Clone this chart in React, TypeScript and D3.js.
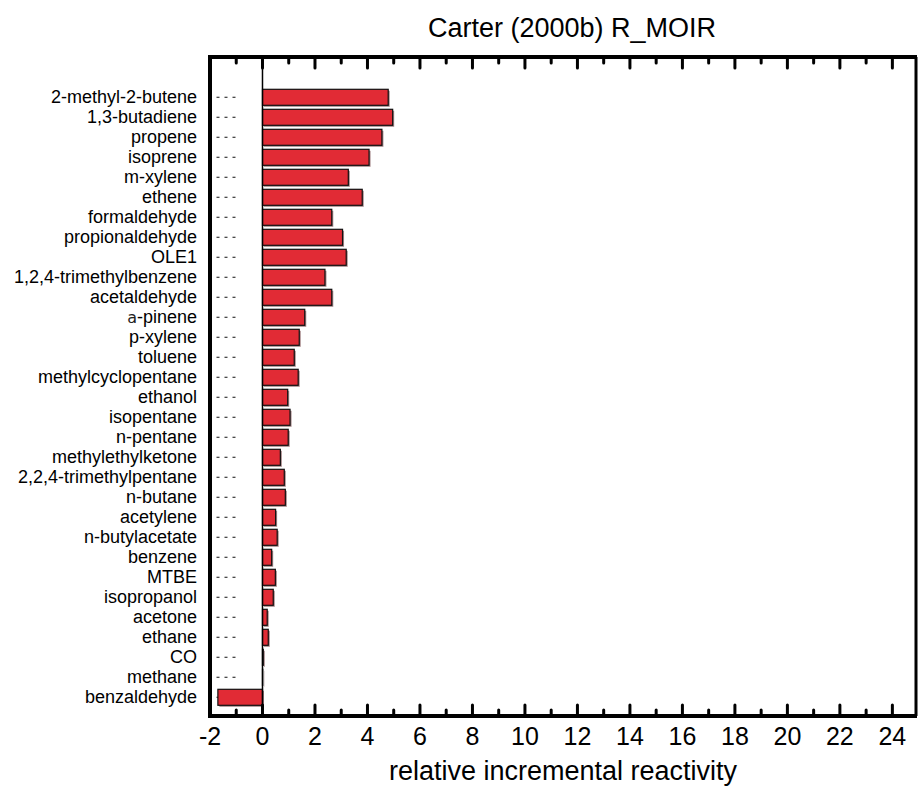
import { scaleLinear, scalePoint } from 'd3';

const categories = [
  '2-methyl-2-butene', '1,3-butadiene', 'propene', 'isoprene', 'm-xylene', 'ethene',
  'formaldehyde', 'propionaldehyde', 'OLE1', '1,2,4-trimethylbenzene', 'acetaldehyde',
  'a-pinene', 'p-xylene', 'toluene', 'methylcyclopentane', 'ethanol', 'isopentane',
  'n-pentane', 'methylethylketone', '2,2,4-trimethylpentane', 'n-butane', 'acetylene',
  'n-butylacetate', 'benzene', 'MTBE', 'isopropanol', 'acetone', 'ethane', 'CO',
  'methane', 'benzaldehyde',
];
const reactivity = [
  4.79, 4.96, 4.55, 4.06, 3.27, 3.80,
  2.64, 3.05, 3.19, 2.38, 2.64,
  1.61, 1.40, 1.21, 1.36, 0.96, 1.05,
  0.98, 0.68, 0.83, 0.87, 0.50,
  0.56, 0.35, 0.49, 0.41, 0.18, 0.22, 0.03,
  0.01, -1.70,
];
const majorTicks = [-2, 0, 2, 4, 6, 8, 10, 12, 14, 16, 18, 20, 22, 24];
const minorTicks = [-1, 1, 3, 5, 7, 9, 11, 13, 15, 17, 19, 21, 23];

const W = 919;
const H = 793;
const plot = { left: 210, right: 916, top: 57, bottom: 716 };
const font = 'Liberation Sans, Arial, sans-serif';

export default function App() {
  const x = scaleLinear().domain([-2, 24.9]).range([plot.left, plot.right]);
  const y = scalePoint<string>().domain(categories).range([97.3, 697.3]);
  const barH = 16;

  return (
    <svg width={W} height={H} style={{ position: 'absolute', left: 0, top: 0, background: '#fff' }}>
      {/* title */}
      <text x={572} y={37} textAnchor="middle" fontFamily={font} fontSize={27}>
        Carter (2000b) R_MOIR
      </text>

      {/* row labels + dashed ticks */}
      {categories.map((c) => (
        <g key={c}>
          <line x1={208.5} x2={237} y1={y(c)!} y2={y(c)!} stroke="#111" strokeWidth={1.1} strokeDasharray="3 5" />
          <text x={197} y={y(c)! + 6} textAnchor="end" fontFamily={font} fontSize={18}>
            {c === 'a-pinene' ? (
              <>
                <tspan fontFamily="DejaVu Sans" fontSize={16} fill="#222">a</tspan>
                <tspan>-pinene</tspan>
              </>
            ) : c}
          </text>
        </g>
      ))}

      {/* bars */}
      {categories.map((c, i) => {
        const v = reactivity[i];
        const x0 = x(Math.min(0, v));
        const w = Math.abs(x(v) - x(0));
        return (
          <g key={'b' + c}>
            <rect x={x0 + 1.5} y={y(c)! - barH / 2 + 1.5} width={w} height={barH} fill="#5a2226" opacity={0.55} />
            <rect x={x0} y={y(c)! - barH / 2} width={w} height={barH} fill="#e12b35" stroke="#111" strokeWidth={1.2} />
          </g>
        );
      })}

      {/* zero line */}
      <line x1={x(0)} x2={x(0)} y1={plot.top} y2={plot.bottom} stroke="#000" strokeWidth={1.5} />

      {/* frame */}
      <line x1={plot.left} x2={plot.right + 1} y1={plot.top} y2={plot.top} stroke="#000" strokeWidth={4} />
      <line x1={plot.left} x2={plot.right + 1} y1={plot.bottom} y2={plot.bottom} stroke="#000" strokeWidth={4} />
      <line x1={plot.left} x2={plot.left} y1={plot.top - 2} y2={plot.bottom + 2} stroke="#000" strokeWidth={4} />
      <line x1={plot.right} x2={plot.right} y1={plot.top} y2={plot.bottom} stroke="#000" strokeWidth={3} />

      {/* ticks */}
      {majorTicks.map((t) => (
        <g key={'M' + t}>
          <line x1={x(t)} x2={x(t)} y1={plot.top} y2={plot.top + 11} stroke="#000" strokeWidth={3} strokeLinecap="round" />
          <line x1={x(t)} x2={x(t)} y1={plot.bottom} y2={plot.bottom - 11} stroke="#000" strokeWidth={3} strokeLinecap="round" />
          <text x={x(t)} y={745} textAnchor="middle" fontFamily={font} fontSize={25}>{t}</text>
        </g>
      ))}
      {minorTicks.map((t) => (
        <g key={'m' + t}>
          <line x1={x(t)} x2={x(t)} y1={plot.top} y2={plot.top + 6} stroke="#000" strokeWidth={3} strokeLinecap="round" />
          <line x1={x(t)} x2={x(t)} y1={plot.bottom} y2={plot.bottom - 6} stroke="#000" strokeWidth={3} strokeLinecap="round" />
        </g>
      ))}

      {/* axis title */}
      <text x={(plot.left + plot.right) / 2} y={780} textAnchor="middle" fontFamily={font} fontSize={27}>
        relative incremental reactivity
      </text>
    </svg>
  );
}
